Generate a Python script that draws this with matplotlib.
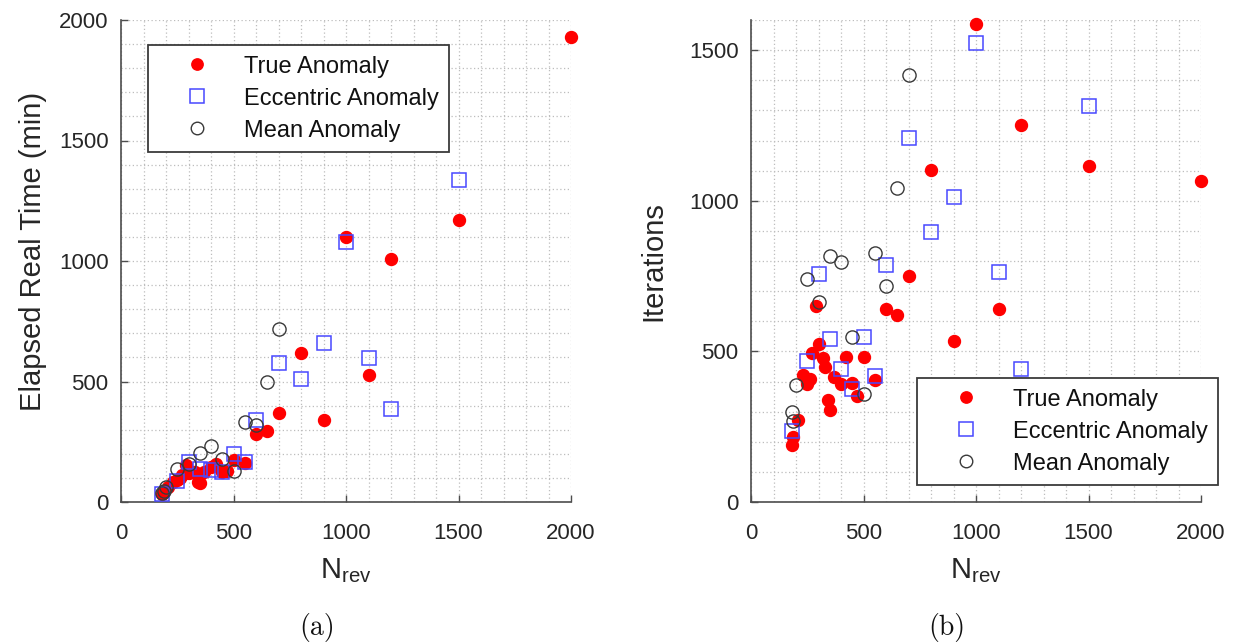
import matplotlib
matplotlib.use("Agg")
import matplotlib.pyplot as plt
from matplotlib.ticker import MultipleLocator

plt.rcParams['font.family'] = ['Liberation Sans', 'DejaVu Sans']

# ---- Data: (a) Elapsed real time ----
true_x_a = [180, 185, 210, 230, 250, 260, 270, 290, 300, 320, 330, 340, 350, 370, 400,
            420, 450, 470, 500, 550, 600, 650, 700, 800, 900, 1000, 1100, 1200, 1500, 2000]
true_y_a = [34, 36, 63, 82, 91, 100, 112, 154, 119, 125, 126, 84, 80, 126, 146,
            156, 123, 130, 174, 163, 281, 293, 371, 617, 340, 1098, 526, 1010, 1171, 1929]

ecc_x_a = [180, 250, 300, 350, 400, 450, 500, 550, 600, 700, 800, 900, 1000, 1100, 1200, 1500]
ecc_y_a = [32, 88, 166, 137, 133, 123, 199, 165, 340, 577, 512, 661, 1080, 599, 387, 1336]

mean_x_a = [180, 190, 200, 250, 300, 350, 400, 450, 500, 550, 600, 650, 700]
mean_y_a = [39, 45, 62, 137, 156, 205, 234, 180, 130, 331, 318, 498, 719]

# ---- Data: (b) Iterations ----
true_x_b = true_x_a
true_y_b = [190, 216, 273, 422, 393, 407, 496, 652, 523, 479, 448, 337, 304, 416, 393,
            482, 395, 353, 480, 404, 642, 620, 750, 1102, 533, 1588, 642, 1253, 1117, 1064]

ecc_x_b = ecc_x_a
ecc_y_b = [237, 468, 758, 541, 443, 374, 548, 418, 787, 1209, 896, 1013, 1524, 764, 442, 1316]

mean_x_b = [180, 185, 200, 250, 300, 350, 400, 450, 500, 550, 600, 650, 700]
mean_y_b = [298, 270, 389, 740, 663, 818, 797, 549, 359, 826, 717, 1041, 1417]

labels = ["True Anomaly", "Eccentric Anomaly", "Mean Anomaly"]
xlabel = r"N$_{\mathregular{rev}}$"

W, H = 1243, 643
fig = plt.figure(figsize=(W / 100, H / 100), dpi=100)

axA = fig.add_axes([121 / W, (H - 502) / H, 450 / W, 482 / H])
axB = fig.add_axes([751 / W, (H - 502) / H, 450 / W, 482 / H])

txt_c = '#262626'
spine_c = '#4d4d4d'


def style(ax, ymax, ylabel):
    ax.set_xlim(0, 2000)
    ax.set_ylim(0, ymax)
    ax.xaxis.set_major_locator(MultipleLocator(500))
    ax.yaxis.set_major_locator(MultipleLocator(500))
    ax.xaxis.set_minor_locator(MultipleLocator(100))
    ax.yaxis.set_minor_locator(MultipleLocator(100))
    ax.grid(True, which='both', linestyle=(0, (1, 2)), color='#bdbdbd', linewidth=0.9)
    ax.set_axisbelow(True)
    ax.spines['top'].set_visible(False)
    ax.spines['right'].set_visible(False)
    for s in ('left', 'bottom'):
        ax.spines[s].set_color(spine_c)
        ax.spines[s].set_linewidth(1.2)
    ax.tick_params(which='major', direction='in', length=5, width=1.0, colors=spine_c,
                   labelcolor=txt_c, labelsize=16)
    ax.tick_params(axis='x', which='major', pad=15)
    ax.tick_params(axis='y', which='major', pad=9)
    ax.tick_params(which='minor', length=0)
    ax.set_xlabel(xlabel, fontsize=21, color=txt_c, labelpad=9)
    ax.set_ylabel(ylabel, fontsize=21, color=txt_c)


def draw(ax, tx, ty, ex, ey, mx, my):
    h1, = ax.plot(tx, ty, 'o', ms=8.6, color='#ff0000', mec='#ff0000', linestyle='none',
                  zorder=3, clip_on=False)
    h2, = ax.plot(ex, ey, 's', ms=10.5, mfc='none', mec='#4848ff', mew=1.1, linestyle='none',
                  zorder=4, clip_on=False)
    h3, = ax.plot(mx, my, 'o', ms=9.5, mfc='none', mec='#3a3a3a', mew=1.0, linestyle='none',
                  zorder=4, clip_on=False)
    return [h1, h2, h3]


hA = draw(axA, true_x_a, true_y_a, ecc_x_a, ecc_y_a, mean_x_a, mean_y_a)
hB = draw(axB, true_x_b, true_y_b, ecc_x_b, ecc_y_b, mean_x_b, mean_y_b)
style(axA, 2000, "Elapsed Real Time (min)")
style(axB, 1600, "Iterations")
axA.yaxis.set_label_coords(-0.165, 0.52)
axB.yaxis.set_label_coords(-0.185, 0.5)


def legend(ax, handles, loc, anchor):
    lg = ax.legend(handles, labels, loc=loc, bbox_to_anchor=anchor, borderaxespad=0,
                   fontsize=17, frameon=True, fancybox=False, framealpha=1,
                   handlelength=3.25, handletextpad=0.35, labelspacing=0.42,
                   borderpad=0.45, markerscale=0.95)
    fr = lg.get_frame()
    fr.set_edgecolor('#3a3a3a')
    fr.set_linewidth(1.3)
    for t in lg.get_texts():
        t.set_color('#111111')
    return lg


legend(axA, hA, 'upper left', (0.06, 0.948))
lgB = legend(axB, hB, 'lower left', (0.369, 0.035))

fig.text(317 / W, 1 - 628 / H, "(a)", family='cmr10', fontsize=20, ha='center', va='center', color='#111111')
fig.text(947 / W, 1 - 628 / H, "(b)", family='cmr10', fontsize=20, ha='center', va='center', color='#111111')

fig.savefig("out.png", dpi=100)
